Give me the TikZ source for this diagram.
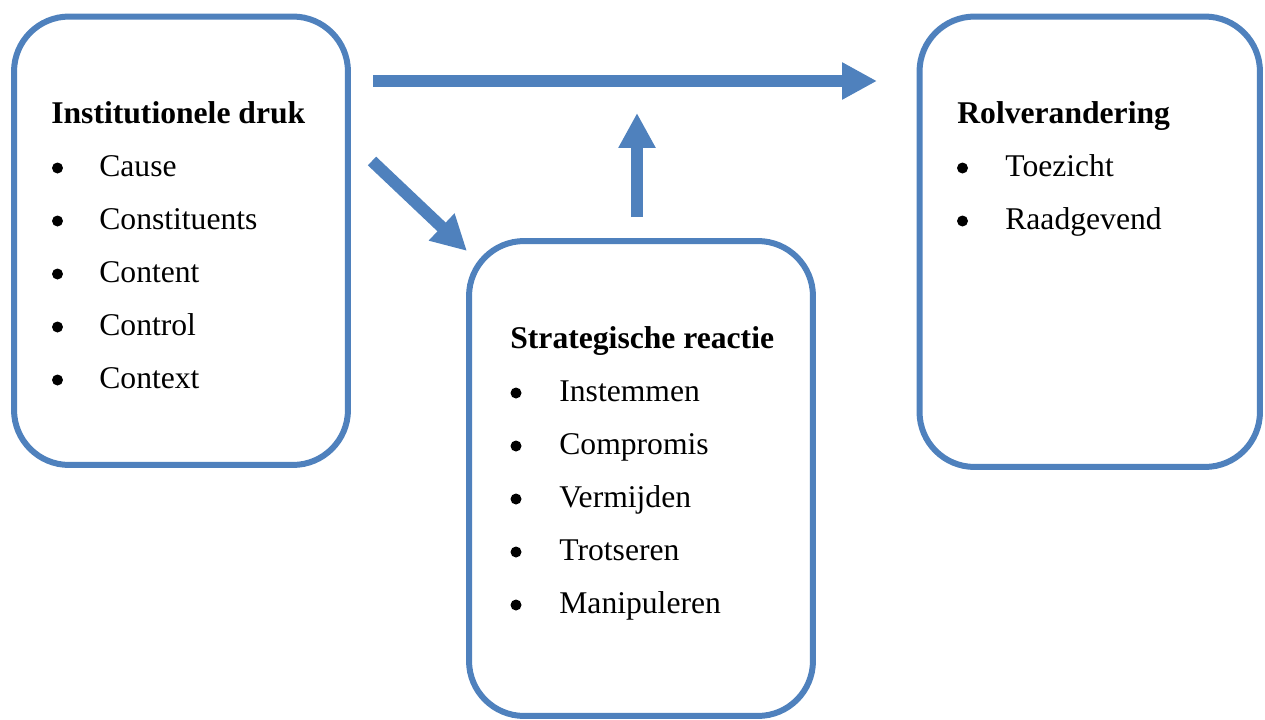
\documentclass[tikz,border=0pt]{standalone}
\usepackage{fontspec}
\setmainfont{Liberation Serif}
\usepackage{xcolor}
\usepackage{tikz}
\usetikzlibrary{arrows.meta,positioning}
\definecolor{boxblue}{RGB}{79,129,189}
\tikzstyle{box} = [draw=boxblue, line width=0.12cm, rounded corners=1.1cm, fill=white]
\tikzstyle{arrow} = [draw=boxblue, line width=0.24cm, -{Triangle[length=0.7cm,width=0.7cm]}]
\tikzstyle{title} = [anchor=base west, inner sep=0pt, font=\fontsize{18}{21}\selectfont\bfseries]
\tikzstyle{itm} = [anchor=base west, inner sep=0pt, font=\fontsize{18}{21}\selectfont]
\tikzstyle{bul} = [circle, fill=black, inner sep=0pt, minimum size=0.22cm]

\begin{document}
\begin{tikzpicture}[x=0.02cm, y=-0.02cm]
    \useasboundingbox (0,0) rectangle (1265,720);
    % boxes
    \node[box, minimum width=6.68cm, minimum height=8.97cm] (inst) at (181,240.75) {};
    \node[box, minimum width=6.88cm, minimum height=9.5cm] (strat) at (641,478.5) {};
    \node[box, minimum width=6.81cm, minimum height=9.01cm] (rol) at (1089.75,241.75) {};
    % headings
    \node[title] (instT) at (51,123) {Institutionele druk};
    \node[title] (stratT) at (510,348) {Strategische reactie};
    \node[title] (rolT) at (957,123) {Rolverandering};
    % lists
    \foreach \lbl [count=\i] in {Cause,Constituents,Content,Control,Context} {
        \node[bul] (instB\i) at (57.5,{115+53*\i}) {};
        \node[itm] (instI\i) at (99,{123+53*\i}) {\lbl};
    }
    \foreach \lbl [count=\i] in {Instemmen,Compromis,Vermijden,Trotseren,Manipuleren} {
        \node[bul] (stratB\i) at (516,{340+53*\i}) {};
        \node[itm] (stratI\i) at (559,{348+53*\i}) {\lbl};
    }
    \foreach \lbl [count=\i] in {Toezicht,Raadgevend} {
        \node[bul] (rolB\i) at (962.5,{115+53*\i}) {};
        \node[itm] (rolI\i) at (1005,{123+53*\i}) {\lbl};
    }
    % arrows
    \coordinate (hStart) at (373,81);
    \coordinate (hEnd) at (877,81);
    \coordinate (dStart) at (372,161);
    \coordinate (dEnd) at (467,251);
    \coordinate (vStart) at (637,217);
    \coordinate (vEnd) at (637,113);
    \draw[arrow] (hStart) -- (hEnd);
    \draw[arrow] (dStart) -- (dEnd);
    \draw[arrow] (vStart) -- (vEnd);
\end{tikzpicture}
\end{document}
